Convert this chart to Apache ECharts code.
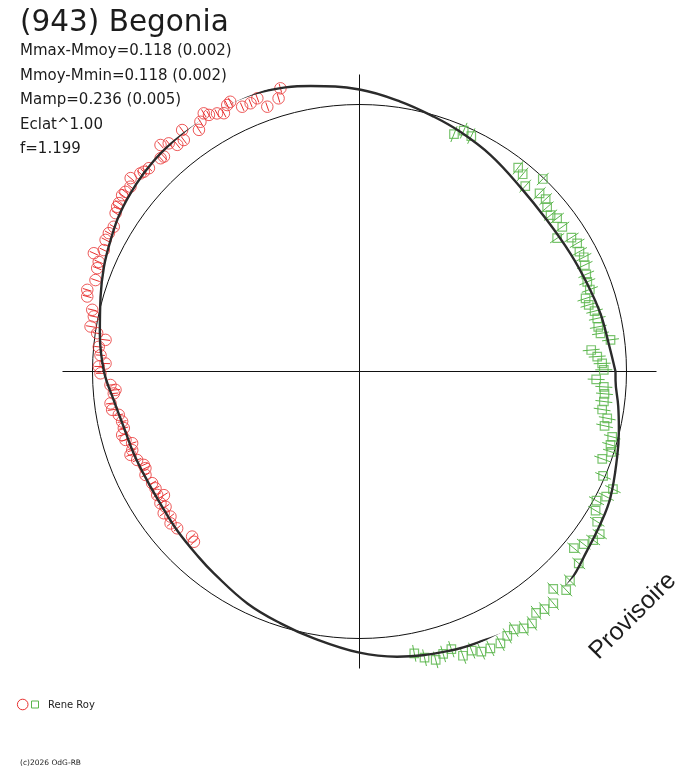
<!DOCTYPE html>
<html>
<head>
<meta charset="utf-8">
<title>(943) Begonia</title>
<script src="https://cdn.jsdelivr.net/npm/echarts@6/dist/echarts.min.js"></script>
<style>
    html, body { margin: 0; padding: 0; background: #fff; }
    #chart { width: 688px; height: 768px; }
</style>
</head>
<body>
<div id="chart"></div>
<script>
// phase in degrees (0 = right, counter-clockwise), radius in plot units
const fitPhase = [0, 6.3, 13.5, 21.1, 29.2, 38.8, 48.9, 58.8, 67.2, 73.7, 81.4, 90,
    99.7, 109.5, 116.3, 122.2, 128.3, 134.3, 140, 146.6, 152.2, 157.8, 164, 171.7,
    180, 186.7, 193.3, 200, 207.2, 213.6, 221.1, 229.1, 234.2, 244.2, 252.6, 260.3,
    270, 277.5, 288.1, 294.8, 301.7, 308.5, 315.3, 321.8, 327.7, 333.4, 341.6, 347.2,
    352.4, 358, 360];
const fitRadius = [256, 250.8, 247.8, 244, 241.6, 240.9, 244.7, 253, 260, 265.4, 273, 282,
    289.7, 296.5, 298.6, 298.5, 296.5, 294.5, 291.5, 287, 281.4, 276.1, 269.4, 262.4,
    255.5, 247.4, 242.2, 240.2, 238.7, 239, 241.9, 245.6, 248.9, 257.6, 263.9, 270.7,
    281.2, 287.7, 293.5, 296.3, 300.4, 301.3, 297, 289.6, 285.1, 280.7, 271.5, 266,
    261, 256.2, 256];

// Rene Roy - session 1 (red circles)
const redPhase = [105.6, 106.5, 109.2, 110.5, 112.1, 113.9, 115.6, 116.4, 117.7, 118.9,
    120.4, 121.1, 122.5, 123.6, 126.3, 127.2, 128.8, 129.9, 131.3, 132.3,
    133.0, 136.0, 137.2, 137.9, 139.8, 141.1, 142.5, 143.4, 145.0, 145.8,
    147.0, 149.5, 151.1, 152.6, 154.6, 156.0, 157.2, 158.5, 160.9, 163.3,
    164.6, 167.0, 168.3, 170.5, 171.7, 172.9, 174.6, 176.4, 178.2, 178.9,
    180.4, 183.1, 184.3, 185.1, 187.3, 188.8, 190.2, 191.9, 193.5, 195.0,
    196.3, 197.5, 199.1, 200.0, 201.7, 203.4, 204.3, 205.8, 208.3, 209.8,
    211.4, 212.3, 213.5, 214.9, 215.9, 217.5, 218.8, 220.7, 224.6, 225.8];
const redRadius = [294.0, 284.9, 280.4, 291.7, 289.5, 289.6, 299.1, 297.5, 291.7, 294.8,
    297.5, 301.5, 296.1, 290.1, 299.6, 290.6, 290.8, 297.4, 301.5, 290.6,
    291.6, 292.7, 294.0, 295.4, 299.6, 294.3, 295.1, 295.7, 293.6, 293.0,
    290.8, 285.2, 286.3, 286.0, 283.1, 290.8, 282.9, 281.9, 279.4, 284.2,
    282.4, 274.3, 271.3, 272.7, 265.1, 255.9, 261.9, 259.5, 254.1, 260.7,
    259.0, 249.4, 244.7, 246.7, 251.0, 250.3, 244.6, 242.6, 242.4, 245.7,
    243.8, 238.4, 240.5, 243.7, 239.3, 235.1, 234.9, 237.7, 235.5, 235.1,
    237.0, 231.4, 238.7, 236.5, 241.7, 238.3, 242.4, 240.5, 235.1, 237.5];

// Rene Roy - session 2 (green squares)
const greenPhase = [281.0, 282.8, 284.8, 286.5, 288.3, 290.0, 291.9, 293.5, 295.3, 297.4,
    299.2, 300.9, 302.6, 304.4, 306.2, 307.9, 309.9, 311.7, 313.4, 315.2,
    318.8, 320.5, 322.4, 324.2, 325.9, 327.7, 329.5, 331.4, 333.1, 335.1,
    336.8, 340.2, 342.3, 343.7, 345.5, 347.5, 349.3, 351.1, 353.0, 354.8,
    356.4, 358.1, 0.4, 1.9, 3.6, 5.3, 7.2, 9.0, 10.6, 12.6,
    14.4, 16.2, 17.9, 19.6, 21.5, 23.2, 25.3, 27.0, 28.6, 30.5,
    32.3, 34.0, 35.5, 37.8, 39.3, 41.2, 42.8, 44.7, 46.4, 48.2,
    50.4, 52.1, 64.6, 66.6, 68.3];
const greenRadius = [287.1, 293.5, 298.3, 294.6, 292.5, 302.5, 300.8, 305.5, 306.2, 306.2,
    302.9, 300.5, 304.9, 305.3, 299.0, 301.1, 302.1, 291.2, 300.8, 296.6,
    291.4, 277.8, 283.0, 288.1, 290.1, 281.2, 274.0, 269.9, 276.6, 279.4,
    265.0, 258.0, 264.2, 261.5, 261.0, 251.0, 252.1, 245.6, 246.2, 246.0,
    244.8, 236.8, 244.3, 242.8, 238.2, 232.7, 253.0, 244.0, 242.9, 243.6,
    242.7, 238.7, 237.6, 244.5, 244.8, 246.7, 249.2, 251.7, 250.5, 252.6,
    250.7, 238.4, 249.1, 250.1, 246.9, 249.4, 253.7, 253.3, 265.8, 248.7,
    256.0, 258.3, 260.6, 262.4, 255.5];

const redErr = 4.5;
const greenErr = 8.5;
const meanRadius = 267;

const statLines = [
    'Mmax-Mmoy=0.118 (0.002)',
    'Mmoy-Mmin=0.118 (0.002)',
    'Mamp=0.236 (0.005)',
    'Eclat^1.00',
    'f=1.199'
];

const RED = '#e8302f';
const GREEN = '#5ab54b';
const CENTER = [359.5, 371.5];

let chartDom = document.getElementById('chart');
let myChart = echarts.init(chartDom, null, { renderer: 'canvas' });

const toPolar = (phase, radius) => phase.map((p, i) => [radius[i], p]);

// short radial error bar through each point
const errorBars = (color, err) => (params, api) =>
{
    let r = api.value(0);
    let a = api.value(1);
    let p1 = api.coord([r - err, a]);
    let p2 = api.coord([r + err, a]);
    return {
        type: 'line',
        shape: { x1: p1[0], y1: p1[1], x2: p2[0], y2: p2[1] },
        style: { stroke: color, lineWidth: 1 },
    };
};

const hidden = {
    axisLine: { show: false },
    axisTick: { show: false },
    axisLabel: { show: false },
    splitLine: { show: false },
};

let graphics = [
    {
        type: 'text',
        style: {
            text: '(943) Begonia', x: 20, y: 23.5,
            font: '29.5px "DejaVu Sans"', fill: '#1c1c1c',
            align: 'left', verticalAlign: 'middle',
        },
    },
];
statLines.forEach((t, i) =>
{
    graphics.push({
        type: 'text',
        style: {
            text: t, x: 20, y: 51.5 + i * 24.4,
            font: '15px "DejaVu Sans"', fill: '#1c1c1c',
            align: 'left', verticalAlign: 'middle',
        },
    });
});
graphics.push(
    {
        type: 'text',
        x: 633, y: 616, rotation: Math.PI / 4,
        style: {
            text: 'Provisoire', x: 0, y: 0,
            font: '25px "Liberation Sans"', fill: '#1c1c1c',
            align: 'center', verticalAlign: 'middle',
        },
    },
    {
        type: 'circle',
        shape: { cx: 22.7, cy: 704.5, r: 5.3 },
        style: { fill: 'none', stroke: RED, lineWidth: 1 },
    },
    {
        type: 'rect',
        shape: { x: 31.5, y: 701, width: 7, height: 7 },
        style: { fill: 'none', stroke: GREEN, lineWidth: 1 },
    },
    {
        type: 'text',
        style: {
            text: 'Rene Roy', x: 48, y: 705.5,
            font: '10px "DejaVu Sans"', fill: '#222',
            align: 'left', verticalAlign: 'middle',
        },
    },
    {
        type: 'text',
        style: {
            text: '(c)2026 OdG-RB', x: 20, y: 763,
            font: '7.5px "DejaVu Sans"', fill: '#222',
            align: 'left', verticalAlign: 'middle',
        },
    }
);

myChart.setOption({
    animation: false,
    backgroundColor: '#fff',
    polar: [
        { center: CENTER, radius: 297 },
        // thin circle of the mean magnitude
        { center: CENTER, radius: meanRadius },
    ],
    angleAxis: [
        {
            polarIndex: 0,
            type: 'value',
            min: 0,
            max: 360,
            interval: 90,
            startAngle: 0,
            clockwise: false,
            axisLine: { show: false },
            axisTick: { show: false },
            axisLabel: { show: false },
            splitLine: {
                show: true,
                lineStyle: { color: '#111', width: 1 },
            },
        },
        {
            polarIndex: 1,
            type: 'value',
            min: 0,
            max: 360,
            startAngle: 0,
            clockwise: false,
            axisLine: {
                show: true,
                lineStyle: { color: '#111', width: 1 },
            },
            axisTick: { show: false },
            axisLabel: { show: false },
            splitLine: { show: false },
        },
    ],
    radiusAxis: [
        Object.assign({ polarIndex: 0, type: 'value', min: 0, max: 297 }, hidden),
        Object.assign({ polarIndex: 1, type: 'value', min: 0, max: meanRadius }, hidden),
    ],
    graphic: graphics,
    series: [
        {
            type: 'custom',
            coordinateSystem: 'polar',
            polarIndex: 0,
            encode: { radius: 0, angle: 1 },
            renderItem: errorBars(RED, redErr),
            data: toPolar(redPhase, redRadius),
            clip: false,
            silent: true,
        },
        {
            type: 'scatter',
            coordinateSystem: 'polar',
            polarIndex: 0,
            symbol: 'circle',
            symbolSize: 11.5,
            itemStyle: { color: 'rgba(0,0,0,0)', borderColor: RED, borderWidth: 1 },
            data: toPolar(redPhase, redRadius),
            clip: false,
            silent: true,
        },
        {
            type: 'custom',
            coordinateSystem: 'polar',
            polarIndex: 0,
            encode: { radius: 0, angle: 1 },
            renderItem: errorBars(GREEN, greenErr),
            data: toPolar(greenPhase, greenRadius),
            clip: false,
            silent: true,
        },
        {
            type: 'scatter',
            coordinateSystem: 'polar',
            polarIndex: 0,
            symbol: 'rect',
            symbolSize: 8.5,
            itemStyle: { color: 'rgba(0,0,0,0)', borderColor: GREEN, borderWidth: 1.2 },
            data: toPolar(greenPhase, greenRadius),
            clip: false,
            silent: true,
        },
        {
            // fitted light curve
            type: 'line',
            coordinateSystem: 'polar',
            polarIndex: 0,
            smooth: 0.4,
            showSymbol: false,
            symbol: 'none',
            lineStyle: { color: '#2b2b2b', width: 2.4, join: 'round' },
            data: toPolar(fitPhase, fitRadius),
            clip: false,
            silent: true,
        },
    ],
});
</script>
</body>
</html>
